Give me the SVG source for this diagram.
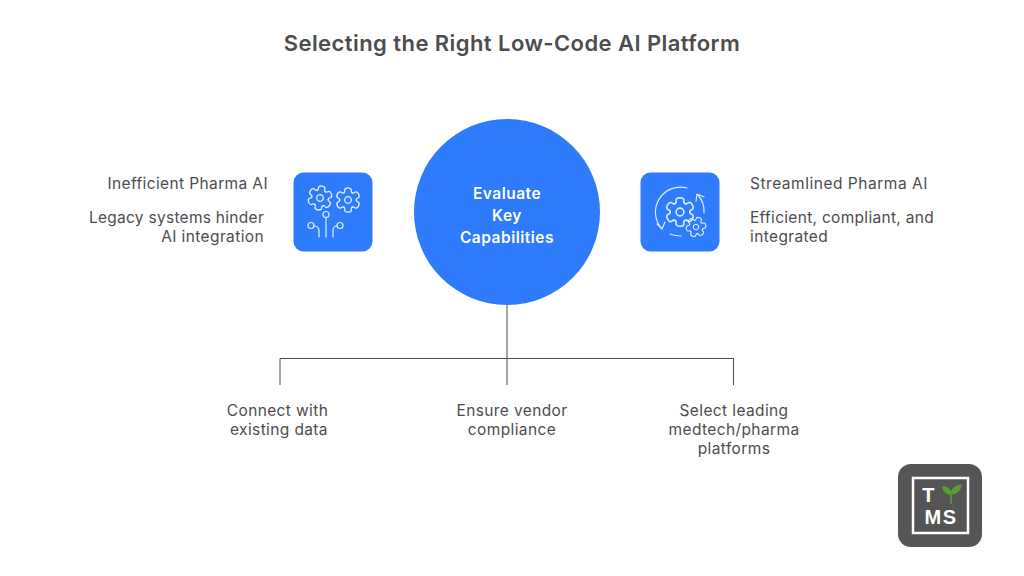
<svg xmlns="http://www.w3.org/2000/svg" width="1024" height="576" viewBox="0 0 1024 576">
<style>
text{font-family:"Inter","Noto Sans","Liberation Sans",sans-serif;fill:#4d4d4d;font-size:15.500px;letter-spacing:.38px}
.c{text-anchor:middle}.e{text-anchor:end}
.w{fill:#fff;font-weight:600;font-size:15.500px;letter-spacing:.5px}
.i{fill:none;stroke:#fff;stroke-opacity:.85;stroke-width:1.2;stroke-linecap:round;stroke-linejoin:round}
.ln{fill:none;stroke:#4d4d4d;stroke-width:1}
.l{fill:#fff;font-family:"Liberation Sans",sans-serif;font-weight:700;font-size:20px;text-anchor:middle;letter-spacing:1.500px}
</style>
<defs>
<path id="t" d="M-3.75,-6.5Q-2.5,-7.2-3,-9Q-3,-11 0,-11Q3,-11 3,-9Q2.5,-7.2 3.75,-6.5"/>
<g id="gear"><use href="#t"/><use href="#t" transform="rotate(60)"/><use href="#t" transform="rotate(120)"/><use href="#t" transform="rotate(180)"/><use href="#t" transform="rotate(240)"/><use href="#t" transform="rotate(300)"/><circle r="3"/></g>
</defs>
<rect width="1024" height="576" fill="#fff"/>
<text id="title" x="512" y="51" class="c" style="font-size:22px;font-weight:600;letter-spacing:.43px">Selecting the Right Low-Code AI Platform</text>
<g id="connectors"><path class="ln" d="M507,305V385M280,385V358.500H733.500V385"/></g>
<g id="center"><circle cx="507" cy="212" r="93" fill="#2e7bfb"/>
<text class="c w" x="507" y="199">Evaluate</text><text class="c w" x="507" y="221">Key</text><text class="c w" x="507" y="243">Capabilities</text></g>
<g id="left-icon"><rect x="293.500" y="172.500" width="79" height="79" rx="10" fill="#2e7bfb"/>
<g class="i"><use href="#gear" transform="translate(320,198) rotate(10) scale(1.1)"/><use href="#gear" transform="translate(348,200) scale(1.1)"/>
<circle cx="326" cy="214.500" r="3"/><path d="M326,217.500V237"/><circle cx="311" cy="225.500" r="3"/><path d="M314,226Q319,226 319,231V237"/><circle cx="340" cy="225.500" r="3"/><path d="M337,226Q333,226 333,231V237"/></g></g>
<g id="left-text"><text class="e" x="268" y="189">Inefficient Pharma AI</text><text class="e" x="264" y="223" style="letter-spacing:.28px">Legacy systems hinder</text><text class="e" x="264" y="242">AI integration</text></g>
<g id="right-icon"><rect x="640.500" y="172.500" width="79" height="79" rx="10" fill="#2e7bfb"/>
<g class="i"><use href="#gear" transform="translate(680,212) scale(1.3)"/><use href="#gear" transform="translate(696,227) scale(.9) rotate(20)"/>
<path d="M687,188A25,25 0 0 0 662,229M657,224L662,229L665,222M698,195A25,25 0 0 1 704,213M696,201L697,194L704,197M670,234Q675,236 681,236"/></g></g>
<g id="right-text"><text x="750" y="189" style="letter-spacing:.52px">Streamlined Pharma AI</text><text x="750" y="223" style="letter-spacing:.3px">Efficient, compliant, and</text><text x="750" y="242">integrated</text></g>
<g id="b1"><text class="c" x="277.500" y="416">Connect with</text><text class="c" x="279" y="435">existing data</text></g>
<g id="b2"><text class="c" x="512" y="416">Ensure vendor</text><text class="c" x="512" y="435">compliance</text></g>
<g id="b3"><text class="c" x="734" y="416">Select leading</text><text class="c" x="734" y="435">medtech/pharma</text><text class="c" x="734" y="454">platforms</text></g>
<g id="logo"><rect x="898" y="464" width="84" height="83" rx="13" fill="#555"/><rect x="913" y="478" width="55" height="55" fill="none" stroke="#fff" stroke-width="2.500"/>
<text class="l" x="929" y="501.500">T</text><text class="l" x="941" y="524">MS</text>
<path d="M951,494C947,494 944,492 943,487C947,487 950,489 951,494C952,489 956,486 961,485C960,491 956,494 951,494M951,494V504" fill="#5c9e31" stroke="#5c9e31" stroke-width="1.500"/></g>
</svg>
